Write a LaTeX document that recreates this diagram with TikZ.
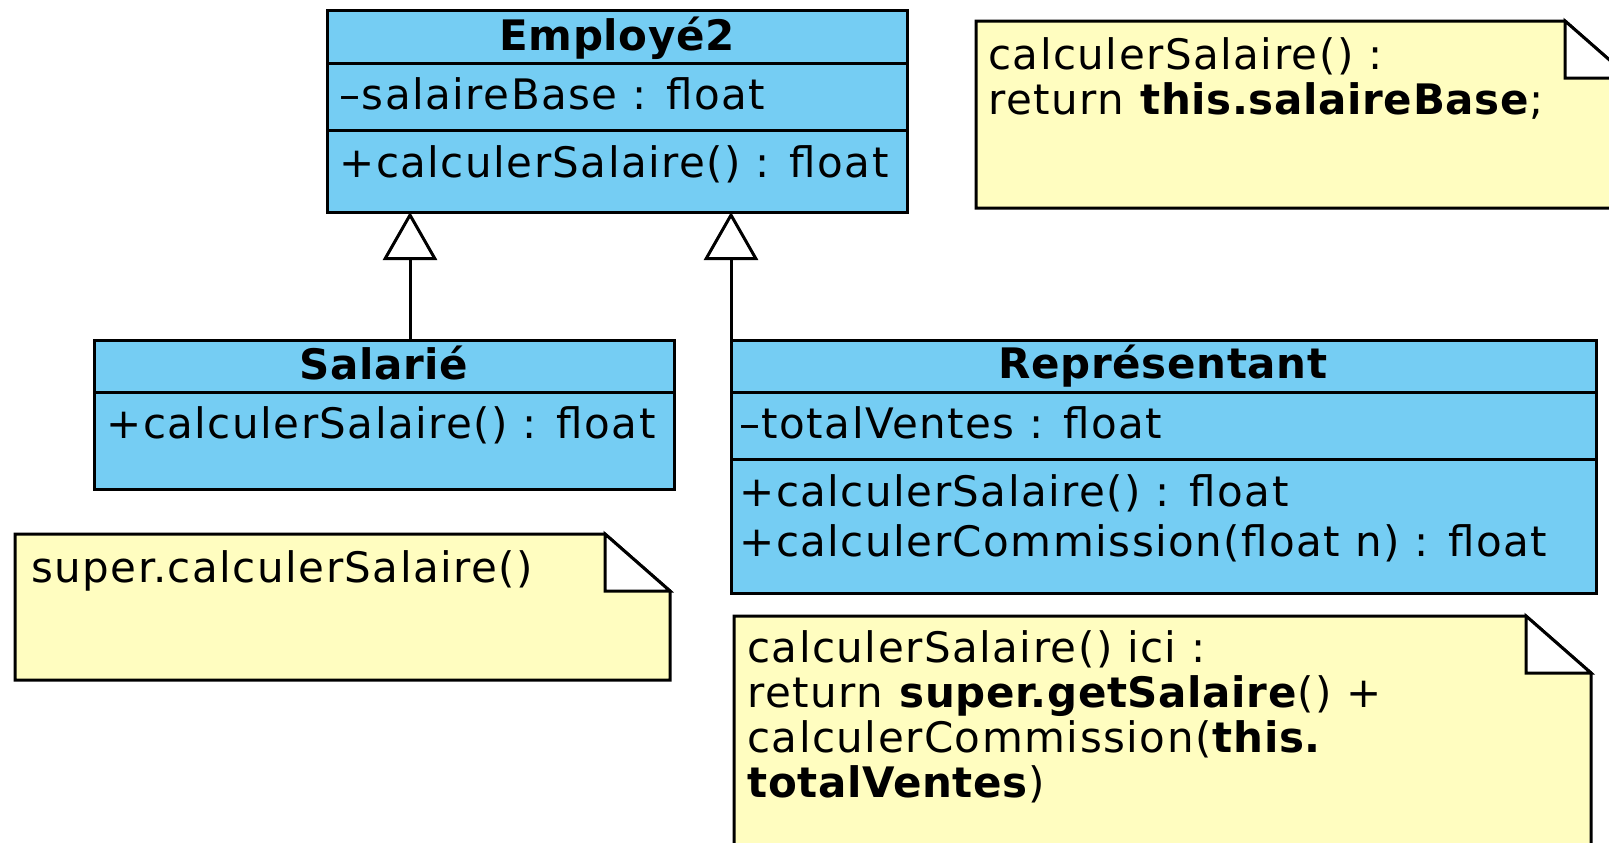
\documentclass[tikz,border=0pt]{standalone}
\usepackage{fontspec}
\setmainfont{DejaVu Sans}[LetterSpace=3.5,BoldFeatures={LetterSpace=1.5}]
\usetikzlibrary{arrows.meta,calc}
\definecolor{umlblue}{RGB}{117,205,243}
\definecolor{noteyellow}{RGB}{255,253,192}
\tikzset{
 classbox/.style={draw=black, fill=umlblue, line width=1.5pt, inner sep=0pt, outer sep=0pt, anchor=north west},
 sepline/.style={line width=1.5pt},
 member/.style={anchor=base west, inner sep=0pt, font=\fontsize{21}{22}\selectfont},
 ctitle/.style={anchor=base, inner sep=0pt, font=\fontsize{21}{22}\selectfont\bfseries},
 notebody/.style={draw=black, fill=noteyellow, line width=1.5pt, line join=miter},
 notefold/.style={draw=black, fill=white, line width=1.5pt, line join=miter},
 inherit/.style={line width=1.5pt, -{Triangle[open, length=24pt, width=27pt, fill=white]}},
}
\begin{document}
\begin{tikzpicture}[x=0.5pt,y=-0.5pt]
\useasboundingbox (0,0) rectangle (1609,842);
\clip (0,0) rectangle (1609,842);
\fill[white] (0,0) rectangle (1609,842);

% ---- Employé2
\node[classbox, minimum width=290pt, minimum height=101pt] (emp) at (327,10) {};
\draw[sepline] (327,63) -- (907,63);
\draw[sepline] (327,130) -- (907,130);
\node[ctitle] (empT) at (617,50) {Employé2};
\node[member] (empA) at (339,109) {–salaireBase : float};
\node[member] (empM) at (339,177) {+calculerSalaire() : float};

% ---- Salarié
\node[classbox, minimum width=290pt, minimum height=74.5pt] (sal) at (94,340) {};
\draw[sepline] (94,392) -- (674,392);
\node[ctitle] (salT) at (384,379) {Salarié};
\node[member] (salM) at (106,438) {+calculerSalaire() : float};

% ---- Représentant
\node[classbox, minimum width=432.5pt, minimum height=126.5pt] (rep) at (731,340) {};
\draw[sepline] (731,392) -- (1596,392);
\draw[sepline] (731,459) -- (1596,459);
\node[ctitle] (repT) at (1163,378) {Représentant};
\node[member] (repA) at (739,438) {–totalVentes : float};
\node[member] (repM1) at (739,506) {+calculerSalaire() : float};
\node[member] (repM2) at (739,556) {+calculerCommission(float n) : float};

% ---- inheritance
\coordinate (a1) at (410,0);
\coordinate (a2) at (731,0);
\draw[inherit] (sal.north -| a1) -- (emp.south -| a1);
\draw[inherit] (rep.north -| a2) -- (emp.south -| a2);

% ---- note top right
\draw[notebody] (976,21) -- (1565,21) -- (1630,78) -- (1630,208) -- (976,208) -- cycle;
\draw[notefold] (1565,21) -- (1565,78) -- (1630,78) -- cycle;
\node[member] (n1a) at (988,69) {calculerSalaire() :};
\node[member] (n1b) at (988,114) {return \textbf{this.salaireBase};};

% ---- note Salarié
\draw[notebody] (15,534) -- (605,534) -- (670,591) -- (670,680) -- (15,680) -- cycle;
\draw[notefold] (605,534) -- (605,591) -- (670,591) -- cycle;
\node[member] (n2a) at (31,582) {super.calculerSalaire()};

% ---- note Représentant
\draw[notebody] (734,616) -- (1526,616) -- (1591,673) -- (1591,860) -- (734,860) -- cycle;
\draw[notefold] (1526,616) -- (1526,673) -- (1591,673) -- cycle;
\node[member] (n3a) at (747,662) {calculerSalaire() ici :};
\node[member] (n3b) at (747,707) {return \textbf{super.getSalaire}() +};
\node[member] (n3c) at (747,752) {calculerCommission(\textbf{this.}};
\node[member] (n3d) at (747,797) {\textbf{totalVentes})};
\end{tikzpicture}
\end{document}
